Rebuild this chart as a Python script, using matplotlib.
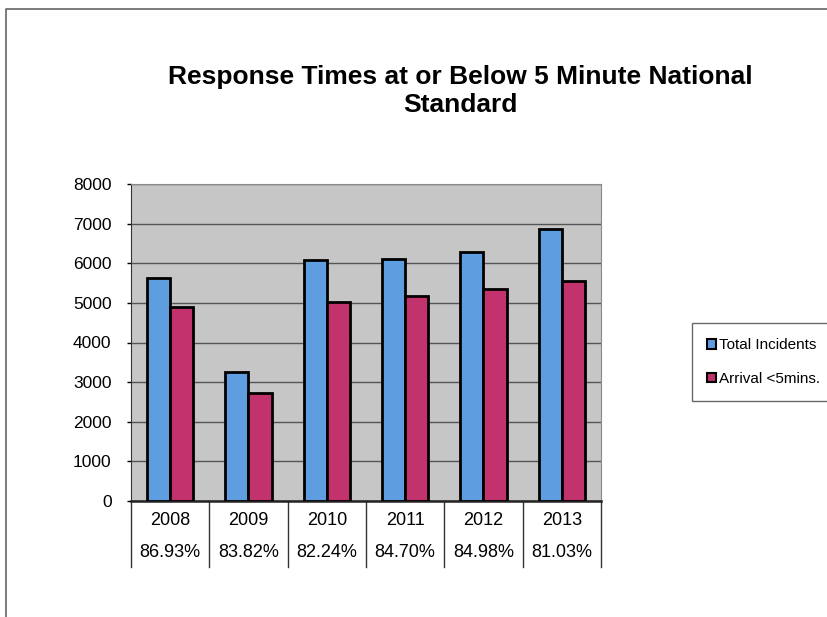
import numpy as np
import matplotlib
matplotlib.use("Agg")
import matplotlib.pyplot as plt
from matplotlib.lines import Line2D
import matplotlib.transforms as mtransforms

# -------------data-------------
years = ["2008", "2009", "2010", "2011", "2012", "2013"]
total_incidents = [5620, 3245, 6080, 6105, 6285, 6855]
arrival_under_5 = [4905, 2720, 5015, 5170, 5350, 5560]
pct_labels = ["86.93%", "83.82%", "82.24%", "84.70%", "84.98%", "81.03%"]
yticks = [0, 1000, 2000, 3000, 4000, 5000, 6000, 7000, 8000]

plt.rcParams['font.family'] = ['Liberation Sans', 'DejaVu Sans']

fig = plt.figure(figsize=(8.28, 6.17), dpi=100)

# outer frame of the embedded chart (left and top edges only, right runs off the page)
fig.lines.append(Line2D([6/828, 6/828, 1.0], [0.0, 1 - 9/617, 1 - 9/617],
                        transform=fig.transFigure, color="#666666", linewidth=1.2))

fig.text(0.556, 1 - 77/617, "Response Times at or Below 5 Minute National",
         ha="center", va="center", fontsize=19, fontweight="bold")
fig.text(0.556, 1 - 105/617, "Standard",
         ha="center", va="center", fontsize=19, fontweight="bold")

ax = fig.add_axes([131/828, 1 - 501/617, 470/828, 317/617])
ax.set_facecolor("#c6c6c6")

x = np.arange(len(years))
w = 0.295
ax.bar(x - w/2, total_incidents, w, color="#5e9de0", edgecolor="black",
       linewidth=2, label="Total Incidents", zorder=3)
ax.bar(x + w/2, arrival_under_5, w, color="#c2336e", edgecolor="black",
       linewidth=2, label="Arrival <5mins.", zorder=3)

ax.set_xlim(-0.5, len(years) - 0.5)
ax.set_ylim(0, 8000)
ax.set_yticks(yticks)
ax.tick_params(axis="y", labelsize=12.5, length=3, width=1, direction="out", pad=11)
ax.set_xticks([])
ax.yaxis.grid(True, color="#555555", linewidth=1.0, zorder=1)
for side in ["top", "right"]:
    ax.spines[side].set_color("#8a8a8a")
ax.spines["left"].set_color("#333333")
ax.spines["bottom"].set_color("#222222")
ax.spines["bottom"].set_linewidth(1.8)

# data table under the axis
trans = mtransforms.blended_transform_factory(ax.transData, ax.transAxes)
for edge in np.arange(len(years) + 1) - 0.5:
    ax.plot([edge, edge], [0, -0.208], transform=trans, color="#333333",
            linewidth=1.0, clip_on=False)
for i in range(len(years)):
    ax.text(i, -0.063, years[i], transform=trans, ha="center", va="center",
            fontsize=13)
    ax.text(i, -0.164, pct_labels[i], transform=trans, ha="center", va="center",
            fontsize=13)

leg = fig.legend(loc="center left", bbox_to_anchor=(692/828, 1 - 362/617),
                 frameon=True, fancybox=False, fontsize=11,
                 handlelength=0.6, handleheight=0.6, handletextpad=0.15,
                 labelspacing=1.3, borderpad=1.0, borderaxespad=0)
leg.get_frame().set_edgecolor("#444444")
leg.get_frame().set_linewidth(1.0)
for h in leg.legend_handles:
    h.set_linewidth(1.5)

fig.savefig("out.png", dpi=100)
